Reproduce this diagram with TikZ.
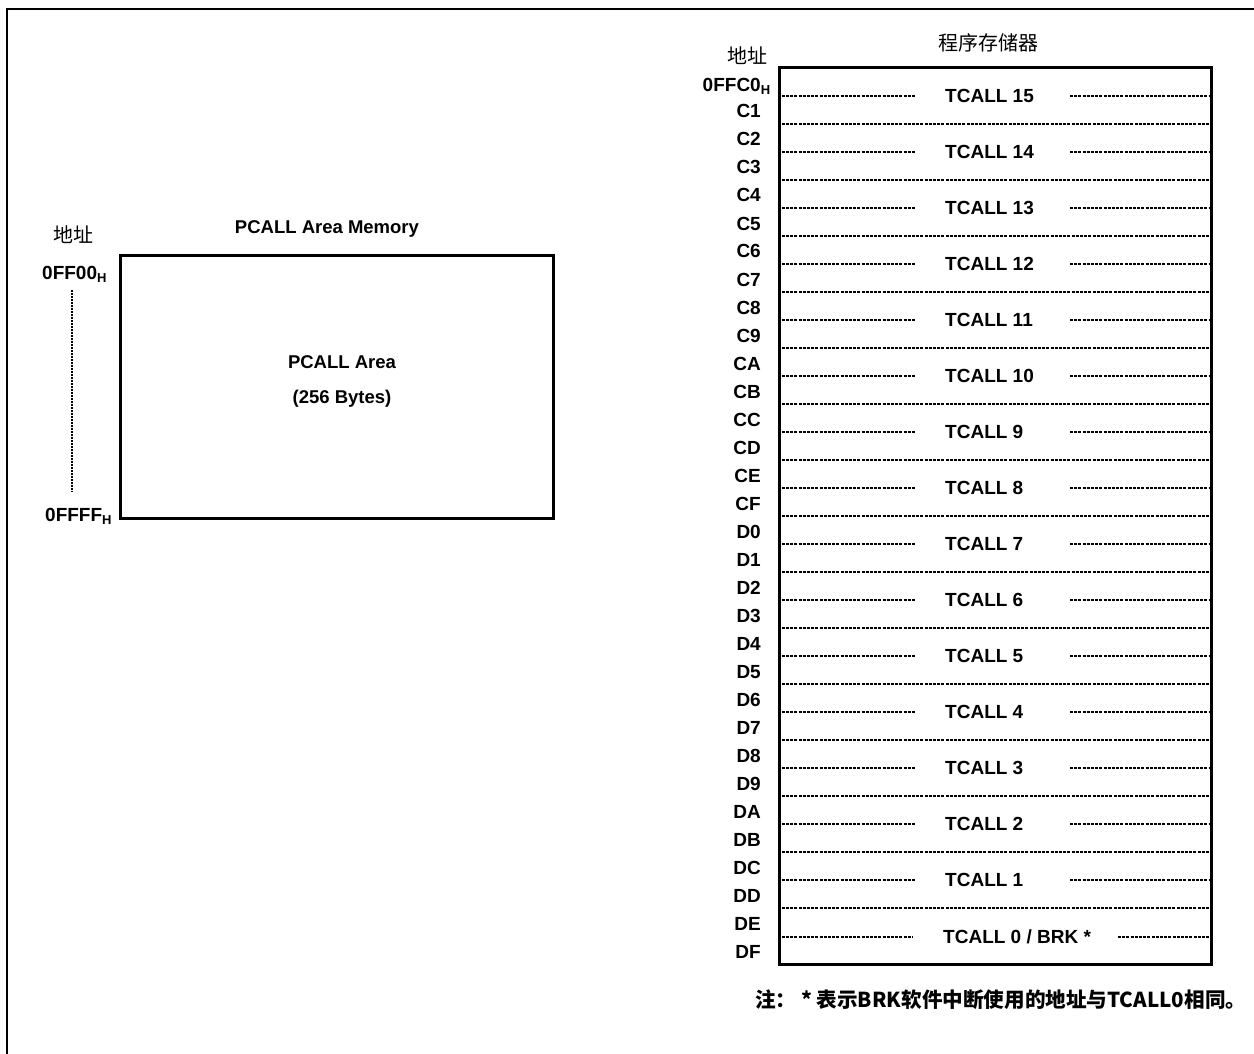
\documentclass[tikz,border=0pt]{standalone}
\usepackage{fontspec}
\setmainfont{Liberation Sans}
\newfontfamily\cjk{Noto Sans CJK SC}
\newcommand{\hsub}[1]{\raisebox{-3pt}{\fontsize{13}{14}\selectfont #1}}

\begin{document}
\begin{tikzpicture}[x=1pt,y=-1pt]
        \tikzstyle{every node} = [inner sep = 0pt, font = \fontsize{19}{22}\selectfont\bfseries];
        \tikzstyle{box} = [draw, rectangle, line width = 3pt];
        \tikzstyle{rowline} = [line width = 1.8pt, dash pattern = on 3pt off 1.2pt];
        \tikzstyle{addr} = [anchor = base east, font = \fontsize{19}{22}\selectfont\bfseries];
        \tikzstyle{cjktext} = [font = \cjk\fontsize{20}{24}\selectfont];
        \useasboundingbox (0,0) rectangle (1254,1054);
        % outer frame
        \coordinate (f1) at (7,1054);
        \coordinate (f2) at (7,9);
        \coordinate (f3) at (1254,9);
        \draw[line width = 2.2pt] (f1) -- (f2) -- (f3);
        % PCALL area memory
        \node[box, minimum width = 433pt, minimum height = 263pt] (pcall) at (336.5,386.5) {};
        \node[font = \fontsize{18.5}{22}\selectfont\bfseries] (ptitle) at (327,229) {PCALL Area Memory};
        \node[font = \fontsize{18.5}{22}\selectfont\bfseries] (parea) at (342,362) {PCALL Area};
        \node[font = \fontsize{18.5}{22}\selectfont\bfseries] (pbytes) at (342,399) {(256 Bytes)};
        \node[cjktext] (paddr) at (73,235) {地址};
        \node[addr, anchor = base west] (p0) at (42,279) {0FF00\hsub{H}};
        \node[addr, anchor = base west] (p1) at (45,521) {0FFFF\hsub{H}};
        \coordinate (d1) at (72,290);
        \coordinate (d2) at (72,492);
        \draw[line width = 2pt, dash pattern = on 1.6pt off 1.4pt] (d1) -- (d2);
        % program memory
        \node[box, minimum width = 432pt, minimum height = 896pt] (mem) at (995,516) {};
        \node[cjktext] (mtitle) at (988,43) {程序存储器};
        \node[cjktext] (maddr) at (747,56) {地址};
        \foreach \k in {1,...,15} {
          \coordinate (s\k) at (0,68+56*\k);
          \draw[rowline] (mem.west |- s\k) -- (mem.east |- s\k);
        }
        \foreach \k in {1,...,15} {
          \pgfmathtruncatemacro\t{15-\k+1}
          \node[anchor = west] (t\t) at (945,96+56*\k-56) {TCALL \t};
          \coordinate (a\t) at (915,96+56*\k-56);
          \coordinate (b\t) at (1070,96+56*\k-56);
          \draw[rowline] (mem.west |- a\t) -- (a\t);
          \draw[rowline] (b\t) -- (mem.east |- b\t);
        }
        \node[anchor = west] (t0) at (943,937) {TCALL 0 / BRK *};
        \coordinate (a0) at (912,937);
        \coordinate (b0) at (1118,937);
        \draw[rowline] (mem.west |- a0) -- (a0);
        \draw[rowline] (b0) -- (mem.east |- b0);
        % addresses
        \node[addr] (c0) at (761,92) {0FFC0\rlap{\hsub{H}}};
        \foreach \a [count=\n] in {C1,C2,C3,C4,C5,C6,C7,C8,C9,CA,CB,CC,CD,CE,CF,
                                   D0,D1,D2,D3,D4,D5,D6,D7,D8,D9,DA,DB,DC,DD,DE,DF}
          \node[addr] (c\n) at (761,90+28*\n) {\a};
        % note
        \node[anchor = west, font = \cjk\bfseries\fontsize{20.6}{24}\selectfont] (note) at (755,1000)
          {注： * 表示BRK软件中断使用的地址与TCALL0相同。};
        \end{tikzpicture}
\end{document}
